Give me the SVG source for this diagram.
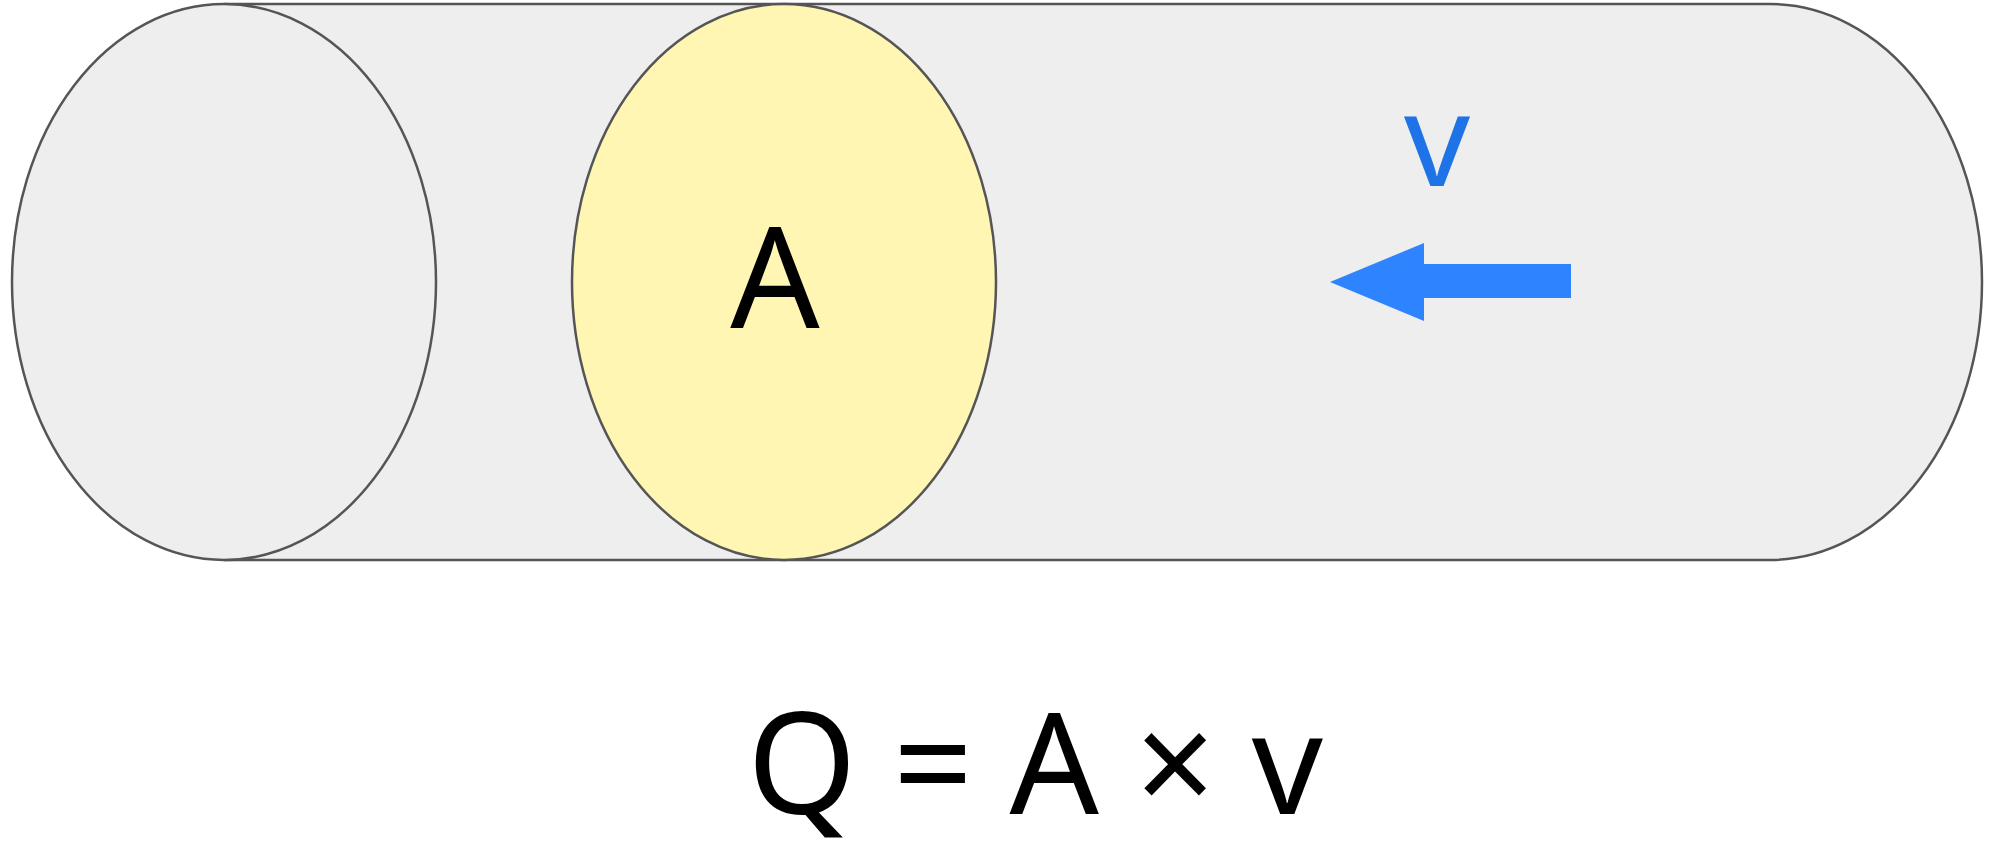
<svg xmlns="http://www.w3.org/2000/svg" width="2000" height="856" viewBox="0 0 2000 856">
  <style>
    .outline { stroke: #555555; stroke-width: 2.5; }
    .body { fill: #eeeeee; }
    .section { fill: #fff6b4; }
    .lbl { font-family: "Noto Sans", "Open Sans", "Liberation Sans", sans-serif; font-size: 140px; fill: #000000; }
    .vlbl { font-family: "Noto Sans", "Open Sans", "Liberation Sans", sans-serif; font-size: 130px; fill: #1e74e6; }
  </style>
  <rect width="2000" height="856" fill="#ffffff"/>
  <g id="cylinder">
    <path class="body" d="M224,4 H1770 A212,278 0 0 1 1770,560 H224 Z"/>
    <path class="outline" fill="none" d="M224,4 H1770 A212,278 0 0 1 1770,560 H224"/>
    <ellipse class="body outline" cx="224" cy="282" rx="212" ry="278"/>
  </g>
  <g id="cross-section">
    <ellipse class="section outline" cx="784" cy="282" rx="212" ry="278"/>
    <text class="lbl" x="775" y="328" text-anchor="middle">A</text>
  </g>
  <g id="velocity">
    <polygon fill="#2e84ff" points="1330,282 1424,243 1424,264 1571,264 1571,298 1424,298 1424,321"/>
    <text class="vlbl" x="1437" y="186" text-anchor="middle">v</text>
  </g>
  <g id="formula">
    <text class="lbl" x="1035" y="814" text-anchor="middle">Q = A × v</text>
  </g>
</svg>
